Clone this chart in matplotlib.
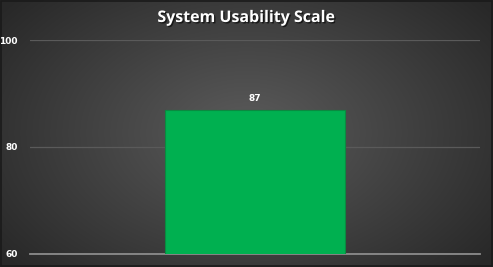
import matplotlib
matplotlib.use("Agg")
import matplotlib.pyplot as plt
import matplotlib.patheffects as pe
import numpy as np

categories = ["System Usability Scale"]
scores = [87]
yticks = [60, 80, 100]

W, H = 493, 267
fig = plt.figure(figsize=(W / 100, H / 100), dpi=100)

# radial gradient background
bg = fig.add_axes([0, 0, 1, 1], zorder=-1)
yy, xx = np.mgrid[0:H, 0:W]
r = np.sqrt(((xx - W * 0.5) / (W * 0.62)) ** 2 + ((yy - H * 0.5) / (H * 0.75)) ** 2)
r = np.clip(r, 0, 1)
shade = 0.36 - 0.20 * r
img = np.dstack([shade, shade, shade])
bg.imshow(img, aspect="auto", extent=[0, 1, 0, 1], origin="lower")
bg.set_xlim(0, 1)
bg.set_ylim(0, 1)
bg.axis("off")
bg.add_patch(plt.Rectangle((0.002, 0.004), 0.996, 0.992, fill=False,
                           ec="#1a1a1a", lw=1.2, transform=bg.transAxes))

ax = fig.add_axes([30 / W, 1 - 254 / H, 450 / W, 214 / H])
ax.patch.set_alpha(0)

bars = ax.bar(categories, scores, width=0.4, color="#00B050",
              edgecolor="#0a8a40", linewidth=0.8, zorder=3)
ax.bar_label(bars, labels=[str(v) for v in scores], padding=5,
             color="white", fontsize=6.5, fontweight="bold")

ax.set_xlim(-0.5, 0.5)
ax.set_ylim(60, 100)
ax.set_yticks(yticks)
ax.set_xticks([])
ax.grid(axis="y", color="#5a5a5a", lw=0.9, zorder=0)
for s in ["top", "right", "left"]:
    ax.spines[s].set_visible(False)
ax.spines["bottom"].set_color("#8c8c8c")
ax.spines["bottom"].set_linewidth(1.3)
ax.tick_params(axis="y", length=0, pad=9, labelcolor="white", labelsize=6.5)
for t in ax.get_yticklabels():
    t.set_fontweight("bold")

fig.text(0.5, 1 - 18 / H, "System Usability Scale", ha="center", va="center",
         color="white", fontsize=11.5, fontweight="bold", family="Open Sans",
         path_effects=[pe.withSimplePatchShadow(offset=(1, -1), shadow_rgbFace="black", alpha=0.6)])

fig.savefig("out.png", dpi=100)
